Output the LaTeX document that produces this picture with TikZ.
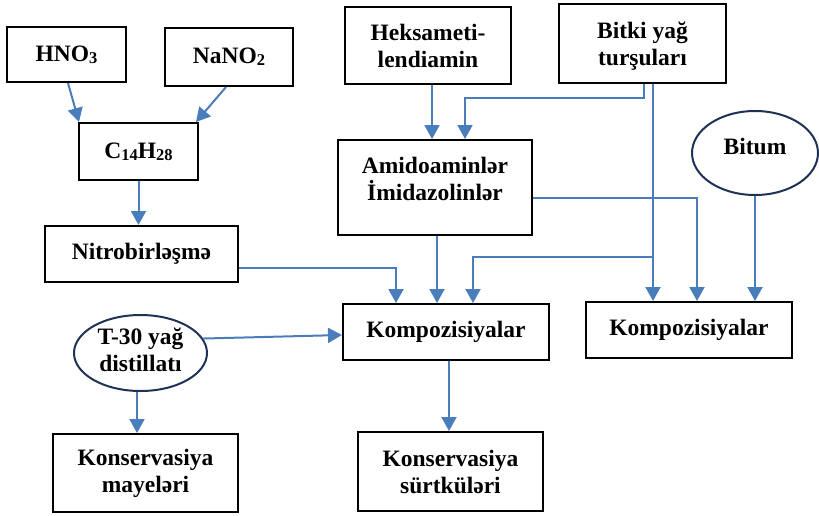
\documentclass[tikz,border=0pt]{standalone}
\usepackage{fontspec}
\setmainfont{Liberation Serif}
\usetikzlibrary{arrows.meta,shapes.geometric}
\definecolor{arrowblue}{RGB}{74,126,187}
\definecolor{ellline}{RGB}{31,50,85}
\newcommand\chsub[1]{\raisebox{-2pt}{\fontsize{16.5}{16.5}\selectfont #1}}
\begin{document}
\begin{tikzpicture}[x=1pt,y=-1pt,
  every node/.style={font=\fontsize{23.5}{27}\selectfont\bfseries, align=center, inner sep=0pt},
  bx/.style={draw=black, line width=2pt, rectangle},
  ell/.style={draw=ellline, line width=2pt, ellipse},
  arr/.style={draw=arrowblue, line width=2pt, -{Triangle[width=15pt,length=14pt]}}]
\useasboundingbox (0,0) rectangle (819,515);

% nodes
\node[bx, minimum width=119pt, minimum height=55pt] (hno) at (66.5,54.5) {HNO\chsub{3}};
\node[bx, minimum width=128pt, minimum height=58pt] (nano) at (229,57) {NaNO\chsub{2}};
\node[bx, minimum width=119pt, minimum height=57pt] (c14) at (138.5,151.5) {C\chsub{14}H\chsub{28}};
\node[bx, minimum width=193pt, minimum height=56pt] (nitro) at (141.5,254) {Nitrobirləşmə};
\node[bx, minimum width=166pt, minimum height=77pt] (hek) at (428,45.5) {Heksameti-\\lendiamin};
\node[bx, minimum width=167pt, minimum height=79pt, text depth=0pt] (bitki) at (642.5,43.5) {Bitki yağ\\turşuları};
\node[bx, minimum width=194pt, minimum height=95pt, text depth=18pt] (amido) at (435,187.5) {Amidoaminlər\\İmidazolinlər};
\node[ell, minimum width=126pt, minimum height=84pt, text depth=14pt] (bitum) at (755,153) {Bitum};
\node[bx, minimum width=206pt, minimum height=56pt] (komp1) at (446,332) {Kompozisiyalar};
\node[bx, minimum width=206pt, minimum height=56pt] (komp2) at (689,330) {Kompozisiyalar};
\node[ell, minimum width=133pt, minimum height=76pt, text depth=7pt] (t30) at (140.5,353) {T-30 yağ\\distillatı};
\node[bx, minimum width=185pt, minimum height=78pt] (konsm) at (145.5,473) {Konservasiya\\mayeləri};
\node[bx, minimum width=185pt, minimum height=79pt] (konss) at (450.5,471.5) {Konservasiya\\sürtküləri};

% helper coordinates
\coordinate (xn) at (396,268);
\coordinate (xh) at (432,0);
\coordinate (bk1) at (644,98);
\coordinate (xb) at (465,0);
\coordinate (xv) at (653,257);
\coordinate (xc) at (473,0);
\coordinate (am) at (697,198);
\coordinate (xa) at (437,0);

% connectors
\draw[arr] ([xshift=1.5pt]hno.south) -- ([xshift=1pt]c14.north west);
\draw[arr] ([xshift=-3pt]nano.south) -- ([xshift=-3pt]c14.north east);
\draw[arr] (c14.south) -- (c14.south |- nitro.north);
\draw[arr] (nitro.east |- xn) -| (komp1.north -| xn);
\draw[arr] (hek.south -| xh) -- (amido.north -| xh);
\draw[arr] (bitki.south -| bk1) -- (bk1) -| (amido.north -| xb);
\draw[arr] (bitki.south -| xv) -- (komp2.north -| xv);
\draw[arr] (xv) -| (komp1.north -| xc);
\draw[arr] (amido.east |- am) -| (komp2.north -| am);
\draw[arr] (amido.south -| xa) -- (komp1.north -| xa);
\draw[arr] (bitum.south) -- (bitum.south |- komp2.north);
\draw[arr] (t30.13) -- ([yshift=-3pt]komp1.west);
\draw[arr] ([xshift=-3.5pt]t30.south) -- ([xshift=-3.5pt]t30.south |- konsm.north);
\draw[arr] ([xshift=3pt]komp1.south) -- ([xshift=3pt]komp1.south |- konss.north);
\end{tikzpicture}
\end{document}
